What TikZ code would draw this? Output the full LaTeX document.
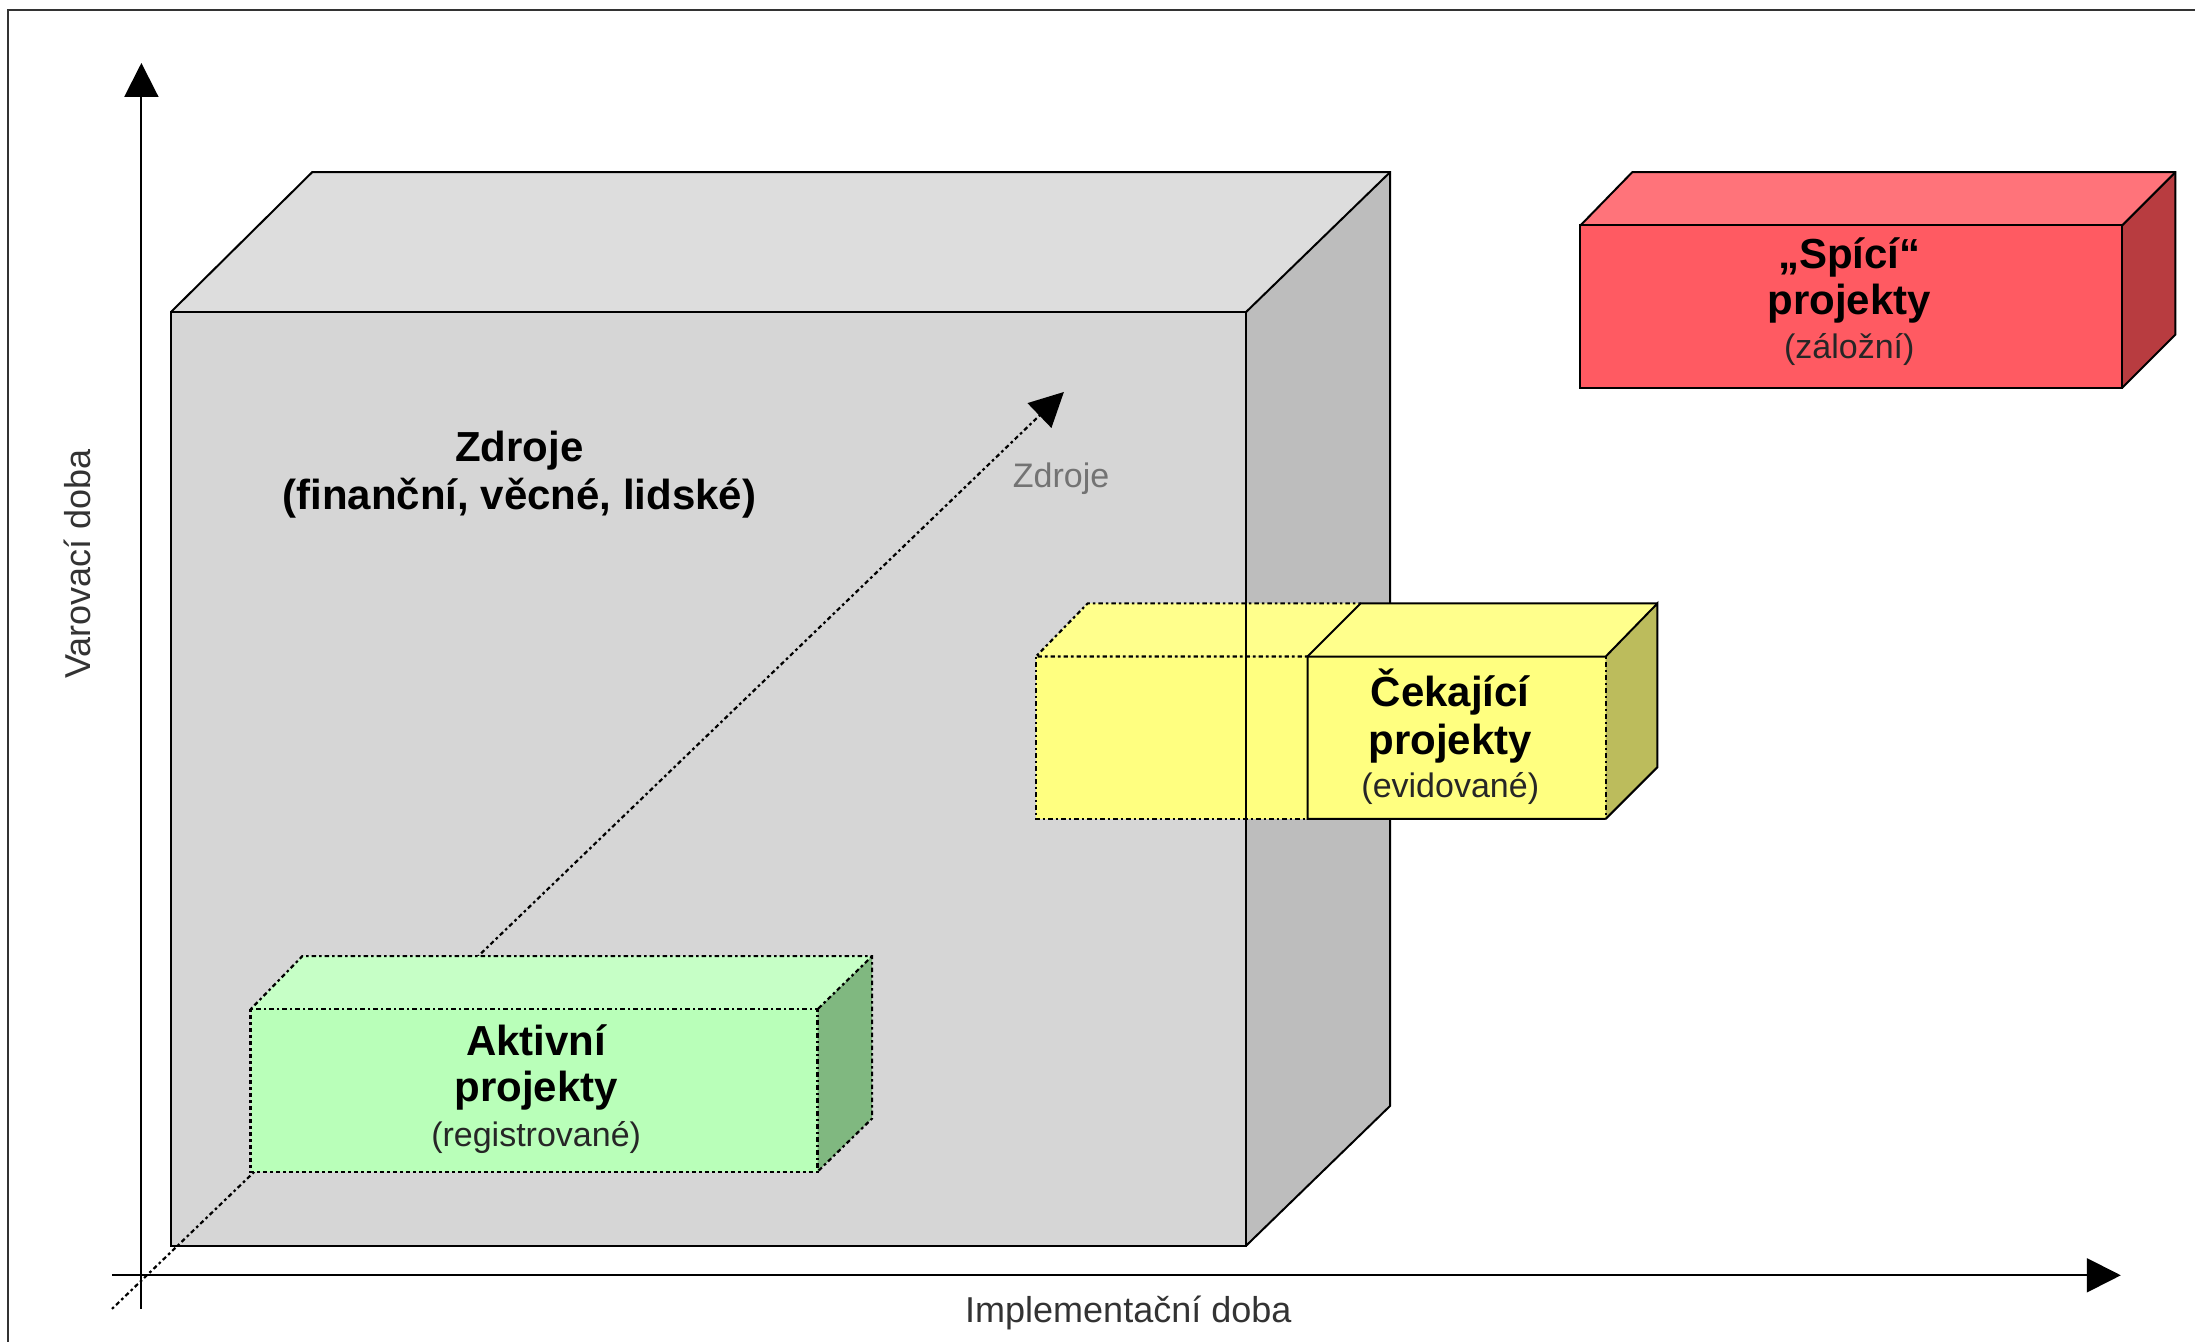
\documentclass[tikz,border=0pt]{standalone}
\usepackage{fontspec}
\setmainfont{Liberation Sans}
\usetikzlibrary{arrows.meta}
\definecolor{cubeF}{HTML}{D6D6D6}
\definecolor{cubeT}{HTML}{DDDDDD}
\definecolor{cubeS}{HTML}{BDBDBD}
\definecolor{grF}{HTML}{B9FFB9}
\definecolor{grT}{HTML}{C6FFC6}
\definecolor{grS}{HTML}{80B880}
\definecolor{yeF}{HTML}{FFFF80}
\definecolor{yeT}{HTML}{FFFF8C}
\definecolor{yeS}{HTML}{BCBC5C}
\definecolor{reF}{HTML}{FF5A62}
\definecolor{reT}{HTML}{FF737A}
\definecolor{reS}{HTML}{B83C40}
\begin{document}
\begin{tikzpicture}[x=0.7pt,y=-0.7pt,
  edge/.style={line width=1pt, line join=miter},
  dotedge/.style={line width=1.1pt, dash pattern=on 1.3pt off 1.5pt on 2.2pt off 1.5pt},
  axis/.style={line width=1pt, -{Triangle[length=17pt,width=17pt]}},
  boldlbl/.style={font=\fontsize{21}{24}\selectfont\bfseries, anchor=base, inner sep=0pt},
  sublbl/.style={font=\fontsize{17}{20}\selectfont, text=black!85, anchor=base, inner sep=0pt},
  axlbl/.style={font=\fontsize{18}{21}\selectfont, text=black!80, inner sep=0pt}]
\useasboundingbox (0,0) rectangle (1568,958);
% frame
\draw[line width=1pt, black!80] (6,960) -- (6,7) -- (1570,7);
% axes
\coordinate (yax0) at (101,935);
\coordinate (yax1) at (101,45);
\coordinate (xax0) at (80,911);
\coordinate (xax1) at (1515,911);
\draw[axis] (yax0) -- (yax1);
\draw[axis] (xax0) -- (xax1);
% big cube
\coordinate (cFTL) at (122,223);
\coordinate (cFTR) at (890,223);
\coordinate (cFBR) at (890,890);
\coordinate (cFBL) at (122,890);
\coordinate (cBTL) at (223,123);
\coordinate (cBTR) at (993,123);
\coordinate (cBBR) at (993,790);
\fill[cubeF] (cFTL) rectangle (cFBR);
\fill[cubeT] (cFTL) -- (cBTL) -- (cBTR) -- (cFTR) -- cycle;
\fill[cubeS] (cFTR) -- (cBTR) -- (cBBR) -- (cFBR) -- cycle;
\draw[edge] (cFTL) rectangle (cFBR);
\draw[edge] (cFTL) -- (cBTL) -- (cBTR) -- (cBBR) -- (cFBR);
\draw[edge] (cBTR) -- (cFTR);
% resources diagonal
\coordinate (dstart) at (80,935);
\coordinate (dend) at (760,280);
\draw[dotedge, -{Triangle[length=17pt,width=17pt]}] (dstart) -- (dend);
% green box
\coordinate (gFTL) at (179,721);
\coordinate (gFTR) at (584,721);
\coordinate (gFBR) at (584,837);
\coordinate (gFBL) at (179,837);
\coordinate (gBTL) at (216,683);
\coordinate (gBTR) at (623,683);
\coordinate (gBBR) at (623,799);
\fill[grF] (gFTL) rectangle (gFBR);
\fill[grT] (gFTL) -- (gBTL) -- (gBTR) -- (gFTR) -- cycle;
\fill[grS] (gFTR) -- (gBTR) -- (gBBR) -- (gFBR) -- cycle;
\draw[dotedge] (gFTL) rectangle (gFBR);
\draw[dotedge] (gFTL) -- (gBTL) -- (gBTR) -- (gBBR) -- (gFBR);
\draw[dotedge] (gBTR) -- (gFTR);
% yellow box
\coordinate (yGTL) at (740,469);
\coordinate (yGBL) at (740,585);
\coordinate (yGBTL) at (777,431);
\coordinate (yFTL) at (934,469);
\coordinate (yFBL) at (934,585);
\coordinate (yBTM) at (972,431);
\coordinate (yFTR) at (1147,469);
\coordinate (yFBR) at (1147,585);
\coordinate (yBTR) at (1184,431);
\coordinate (yBBR) at (1184,548);
\fill[yeF] (yGTL) rectangle (yFBR);
\fill[yeT] (yGTL) -- (yGBTL) -- (yBTR) -- (yFTR) -- cycle;
\fill[yeS] (yFTR) -- (yBTR) -- (yBBR) -- (yFBR) -- cycle;
\draw[dotedge] (yFTL) -- (yGTL) -- (yGBTL) -- (yBTM);
\draw[dotedge] (yGTL) -- (yGBL) -- (yFBL);
\draw[dotedge] (yFTR) -- (yFBR);
\draw[edge] (yFBR) -- (yFBL) -- (yFTL) -- (yFTR) -- (yBTR) -- (yBBR) -- (yFBR);
\draw[edge] (yFTL) -- (yBTM) -- (yBTR);
% cube edge seen over the yellow box
\draw[edge] (cFTR) -- (cFBR);
% red box
\coordinate (rFTL) at (1129,161);
\coordinate (rFTR) at (1516,161);
\coordinate (rFBR) at (1516,277);
\coordinate (rFBL) at (1129,277);
\coordinate (rBTL) at (1166,123);
\coordinate (rBTR) at (1554,123);
\coordinate (rBBR) at (1554,239);
\fill[reF] (rFTL) rectangle (rFBR);
\fill[reT] (rFTL) -- (rBTL) -- (rBTR) -- (rFTR) -- cycle;
\fill[reS] (rFTR) -- (rBTR) -- (rBBR) -- (rFBR) -- cycle;
\draw[edge] (rFTL) rectangle (rFBR);
\draw[edge] (rFTL) -- (rBTL) -- (rBTR) -- (rBBR) -- (rFBR);
\draw[edge] (rBTR) -- (rFTR);
% labels
\node[boldlbl] (zdrT) at (371,330) {Zdroje};
\node[boldlbl] (zdrS) at (371,364) {(finanční, věcné, lidské)};
\node[font=\fontsize{17}{20}\selectfont, text=black!55, anchor=base, inner sep=0pt] (zdrA) at (758,348) {Zdroje};
\node[boldlbl] (aktT) at (383,754) {Aktivní};
\node[boldlbl] (aktP) at (383,787) {projekty};
\node[sublbl] (aktS) at (383,819) {(registrované)};
\node[boldlbl] (cekT) at (1036,505) {Čekající};
\node[boldlbl] (cekP) at (1036,539) {projekty};
\node[sublbl] (cekS) at (1036,570) {(evidované)};
\node[boldlbl] (spiT) at (1321,192) {„Spící“};
\node[boldlbl] (spiP) at (1321,225) {projekty};
\node[sublbl] (spiS) at (1321,256) {(záložní)};
\node[axlbl, rotate=90] (ylbl) at (55,403) {Varovací doba};
\node[axlbl] (xlbl) at (806,938) {Implementační doba};
\end{tikzpicture}
\end{document}
